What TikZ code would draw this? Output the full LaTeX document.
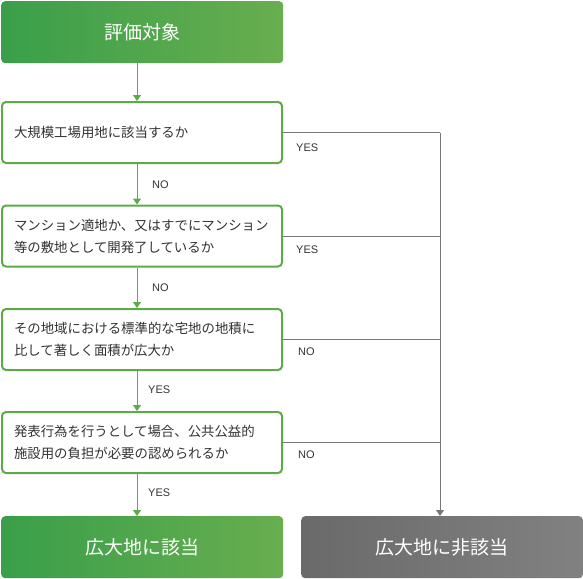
\documentclass[tikz,border=0pt]{standalone}
\usepackage{fontspec}
\setmainfont{Noto Sans CJK JP}
\newfontfamily\latf{Liberation Sans}
\usetikzlibrary{arrows.meta}
\definecolor{gL}{HTML}{3A9F4A}
\definecolor{gR}{HTML}{68AE4F}
\definecolor{gB}{HTML}{5CAB48}
\definecolor{kL}{HTML}{6A6A6A}
\definecolor{kR}{HTML}{818181}
\definecolor{kLine}{HTML}{777777}
\definecolor{txt}{HTML}{333333}
\begin{document}
\begin{tikzpicture}[x=1pt,y=-1pt,
  bigbox/.style={anchor=north west, rounded corners=4pt, text=white,
    minimum width=282pt, minimum height=62pt, inner sep=0pt,
    font=\fontsize{19pt}{22pt}\selectfont},
  greenbox/.style={bigbox, left color=gL, right color=gR},
  graybox/.style={bigbox, left color=kL, right color=kR},
  qbox/.style={draw=gB, line width=2pt, rounded corners=4pt, fill=white,
    minimum width=280pt, minimum height=61pt, inner xsep=12pt, inner ysep=0pt,
    text width=256pt, align=left, text=txt,
    font=\fontsize{13.4pt}{22pt}\selectfont},
  garrow/.style={draw=gB, line width=1pt, -{Triangle[width=8pt,length=6pt]}},
  kline/.style={draw=kLine, line width=1pt},
  karrow/.style={kline, -{Triangle[width=8pt,length=6pt]}},
  lbl/.style={anchor=west, text=txt, inner sep=0pt, font=\latf\fontsize{11pt}{13pt}\selectfont}]
\useasboundingbox (0,0) rectangle (583,578);
\coordinate (colx) at (137,0);
\coordinate (rx) at (440,0);

\node[greenbox] (top) at (1,1) {評価対象};

\node[qbox] (b1) at (142,132.5) {大規模工場用地に該当するか};
\node[qbox] (b2) at (142,236) {マンション適地か、又はすでにマンション\\等の敷地として開発了しているか};
\node[qbox] (b3) at (142,339.5) {その地域における標準的な宅地の地積に\\比して著しく面積が広大か};
\node[qbox] (b4) at (142,442.5) {発表行為を行うとして場合、公共公益的\\施設用の負担が必要の認められるか};

\node[greenbox] (yes) at (1,516) {広大地に該当};
\node[graybox] (no) at (301,516) {広大地に非該当};

\coordinate (r1) at (b1.east -| rx);
\coordinate (r2) at (b2.east -| rx);
\coordinate (r3) at (b3.east -| rx);
\coordinate (r4) at (b4.east -| rx);

\draw[kline] (b1.east) -- (r1);
\draw[kline] (b2.east) -- (r2);
\draw[kline] (b3.east) -- (r3);
\draw[kline] (b4.east) -- (r4);
\draw[kline] (r1) -- (r4);
\draw[karrow] (r4) -- (no.north -| rx);

\draw[garrow] (top.south -| colx) -- (b1.north -| colx);
\draw[garrow] (b1.south -| colx) -- (b2.north -| colx);
\draw[garrow] (b2.south -| colx) -- (b3.north -| colx);
\draw[garrow] (b3.south -| colx) -- (b4.north -| colx);
\draw[garrow] (b4.south -| colx) -- (yes.north -| colx);

\node[lbl] (l1) at (296,148) {YES};
\node[lbl] (l2) at (296,250) {YES};
\node[lbl] (l3) at (298,352) {NO};
\node[lbl] (l4) at (298,455) {NO};
\node[lbl] (m1) at (152,185) {NO};
\node[lbl] (m2) at (152,288) {NO};
\node[lbl] (m3) at (148,390) {YES};
\node[lbl] (m4) at (148,493) {YES};
\end{tikzpicture}
\end{document}
